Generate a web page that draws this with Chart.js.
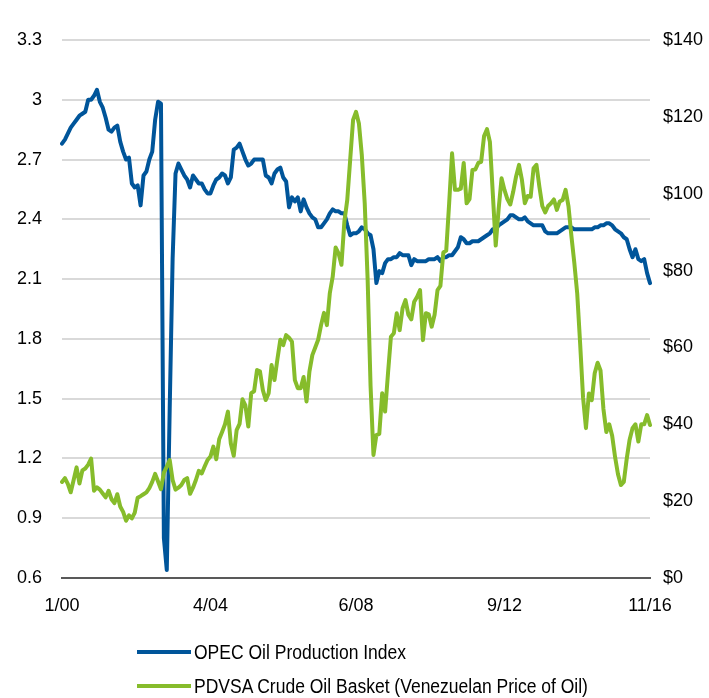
<!DOCTYPE html>
<html>
<head>
<meta charset="utf-8">
<script src="https://cdn.jsdelivr.net/npm/chart.js@4.4.1/dist/chart.umd.min.js"></script>
<style>
  html, body { margin: 0; padding: 0; background: #fff; }
  #wrap { position: relative; width: 709px; height: 698px; }
  #legend {
    position: absolute; left: 137px; top: 635px;
    font-family: 'Liberation Sans', Arial, sans-serif;
    font-size: 20px; color: #000;
  }
  .item { display: flex; align-items: center; height: 34px; white-space: nowrap; }
  .swatch { width: 54px; height: 4px; margin-right: 3px; flex: none; }
  .txt { display: inline-block; transform: scaleX(0.875); transform-origin: left center; }
</style>
</head>
<body>
<div id="wrap">
  <canvas id="myChart" width="709" height="698"></canvas>
  <div id="legend"></div>
</div>
<script>
// monthly, 1/00 .. 11/16
const startYear = 2000;
const monthCount = 203;
const tickLabels = ['1/00', '4/04', '6/08', '9/12', '11/16'];

const seriesNames = ['OPEC Oil Production Index', 'PDVSA Crude Oil Basket (Venezuelan Price of Oil)'];
const seriesColors = ['#00559a', '#86bc2b'];

// OPEC oil production index (left axis)
const opecIndex = [
  2.78, 2.80, 2.83, 2.86, 2.88, 2.90, 2.92, 2.93, 2.94, 3.00,
  3.00, 3.02, 3.05, 2.99, 2.96, 2.91, 2.85, 2.84, 2.86, 2.87,
  2.79, 2.74, 2.70, 2.71, 2.58, 2.56, 2.57, 2.47, 2.62, 2.64,
  2.70, 2.74, 2.90, 2.99, 2.98, 0.80, 0.64, 1.45, 2.20, 2.63,
  2.68, 2.65, 2.62, 2.60, 2.56, 2.62, 2.60, 2.58, 2.58, 2.55,
  2.53, 2.53, 2.57, 2.60, 2.61, 2.63, 2.62, 2.58, 2.61, 2.75,
  2.76, 2.78, 2.74, 2.70, 2.67, 2.68, 2.70, 2.70, 2.70, 2.70,
  2.62, 2.61, 2.58, 2.63, 2.65, 2.66, 2.61, 2.59, 2.46, 2.51,
  2.49, 2.51, 2.44, 2.50, 2.46, 2.43, 2.41, 2.40, 2.36, 2.36,
  2.38, 2.40, 2.43, 2.45, 2.44, 2.44, 2.43, 2.43, 2.37, 2.32,
  2.33, 2.33, 2.34, 2.36, 2.35, 2.33, 2.32, 2.25, 2.08, 2.14,
  2.13, 2.18, 2.20, 2.20, 2.21, 2.21, 2.23, 2.22, 2.22, 2.22,
  2.17, 2.20, 2.19, 2.19, 2.19, 2.19, 2.20, 2.20, 2.20, 2.21,
  2.19, 2.21, 2.21, 2.22, 2.22, 2.24, 2.26, 2.31, 2.30, 2.28,
  2.28, 2.29, 2.29, 2.29, 2.30, 2.31, 2.32, 2.33, 2.35, 2.35,
  2.37, 2.38, 2.39, 2.40, 2.42, 2.42, 2.41, 2.40, 2.40, 2.41,
  2.39, 2.38, 2.37, 2.37, 2.37, 2.37, 2.34, 2.33, 2.33, 2.33,
  2.33, 2.34, 2.35, 2.36, 2.36, 2.36, 2.35, 2.35, 2.35, 2.35,
  2.35, 2.35, 2.35, 2.36, 2.36, 2.37, 2.37, 2.38, 2.38, 2.37,
  2.35, 2.34, 2.33, 2.31, 2.30, 2.25, 2.21, 2.25, 2.20, 2.19,
  2.20, 2.13, 2.08
];

// PDVSA crude oil basket, $ (right axis)
const pdvsaPrice = [
  25.0, 26.0, 24.5, 22.3, 25.5, 28.8, 24.6, 28.0, 28.5, 29.5,
  31.1, 22.7, 23.6, 23.0, 22.0, 21.0, 22.7, 20.5, 19.5, 21.8,
  18.6, 17.2, 14.9, 16.3, 15.5, 17.0, 20.9, 21.3, 21.8, 22.3,
  23.4, 25.0, 27.1, 25.1, 23.1, 27.4, 29.0, 30.7, 25.5, 23.0,
  23.5, 24.2, 25.5, 26.0, 21.9, 23.5, 25.5, 27.9, 27.2, 29.0,
  30.7, 31.6, 34.2, 30.9, 36.1, 38.0, 40.0, 43.3, 35.0, 31.8,
  38.5, 40.1, 46.5, 44.9, 39.4, 48.1, 48.6, 54.1, 53.8, 48.9,
  46.3, 48.1, 55.4, 51.5, 56.9, 62.0, 60.6, 63.2, 62.5, 61.5,
  51.5, 49.4, 49.4, 52.3, 45.9, 53.7, 58.0, 60.0, 62.0, 65.8,
  69.0, 65.8, 74.1, 78.4, 86.0, 84.5, 81.5, 92.7, 98.4, 108.8,
  119.2, 121.3, 118.3, 110.0, 97.5, 77.6, 50.0, 32.0, 37.2, 37.5,
  48.1, 43.3, 53.3, 62.8, 63.7, 68.9, 64.5, 70.2, 72.3, 68.5,
  67.3, 71.9, 73.2, 74.9, 61.9, 68.9, 68.6, 65.4, 68.5, 74.9,
  76.0, 84.7, 85.2, 97.5, 110.5, 101.0, 101.0, 101.3, 108.0, 97.5,
  98.6, 106.2, 106.3, 108.0, 108.3, 115.0, 116.8, 113.5, 100.0, 86.5,
  96.0, 104.0, 101.0, 98.6, 97.2, 100.5, 104.5, 107.5, 103.6, 97.5,
  99.4, 99.2, 106.6, 107.5, 101.8, 96.8, 95.1, 96.8, 97.5, 98.5,
  95.8, 98.0, 98.4, 101.0, 96.7, 89.0, 82.0, 74.0, 61.0, 47.0,
  39.0, 48.0, 46.3, 53.3, 56.0, 54.0, 44.0, 38.0, 40.0, 37.0,
  31.5, 27.0, 24.2, 25.0, 31.0, 36.0, 39.0, 40.0, 35.5, 40.0,
  40.0, 42.4, 39.8
];

const labels = [];
for (let i = 0; i < monthCount; i++) {
  const y = startYear + Math.floor(i / 12);
  labels.push((i % 12 + 1) + '/' + String(y % 100).padStart(2, '0'));
}

Chart.defaults.font.family = "'Liberation Sans', Arial, sans-serif";
Chart.defaults.font.size = 18;
Chart.defaults.color = '#000';

const ctx = document.getElementById('myChart').getContext('2d');
const myChart = new Chart(ctx, {
  type: 'line',
  data: {
    labels: labels,
    datasets: [{
      label: seriesNames[0],
      data: opecIndex,
      yAxisID: 'y',
      borderColor: seriesColors[0],
      borderWidth: 4,
      pointRadius: 0,
      order: 1
    }, {
      label: seriesNames[1],
      data: pdvsaPrice,
      yAxisID: 'y1',
      borderColor: seriesColors[1],
      borderWidth: 4,
      pointRadius: 0,
      order: 0
    }]
  },
  options: {
    responsive: false,
    animation: false,
    devicePixelRatio: 1,
    layout: { padding: { top: 40, bottom: 68, left: 0, right: 0 } },
    elements: { line: { borderJoinStyle: 'round', borderCapStyle: 'round', tension: 0 } },
    scales: {
      x: {
        offset: false,
        grid: { display: false, drawTicks: false },
        border: { display: true, color: '#595959', width: 2 },
        ticks: {
          autoSkip: false,
          maxRotation: 0,
          padding: 17,
          callback: function (val, idx) {
            const l = labels[idx];
            return tickLabels.includes(l) ? l : null;
          }
        },
        afterFit: (s) => { s.height = 52; }
      },
      y: {
        position: 'left',
        min: 0.6,
        max: 3.3,
        grid: { color: '#d9d9d9', lineWidth: 2, drawTicks: false },
        border: { display: false },
        ticks: {
          stepSize: 0.3,
          padding: 20,
          callback: (v) => String(Math.round(v * 10) / 10)
        },
        afterFit: (s) => { s.width = 62; }
      },
      y1: {
        position: 'right',
        min: 0,
        max: 140,
        grid: { display: false, drawTicks: false },
        border: { display: false },
        ticks: {
          stepSize: 20,
          padding: 13,
          callback: (v) => '$' + v
        },
        afterFit: (s) => { s.width = 59; }
      }
    },
    plugins: {
      legend: { display: false },
      tooltip: { enabled: false }
    }
  }
});

// legend stacked under the chart
const legendEl = document.getElementById('legend');
seriesNames.forEach((name, i) => {
  const row = document.createElement('div');
  row.className = 'item';
  const sw = document.createElement('span');
  sw.className = 'swatch';
  sw.style.background = seriesColors[i];
  const txt = document.createElement('span');
  txt.className = 'txt';
  txt.textContent = name;
  row.appendChild(sw);
  row.appendChild(txt);
  legendEl.appendChild(row);
});
</script>
</body>
</html>
